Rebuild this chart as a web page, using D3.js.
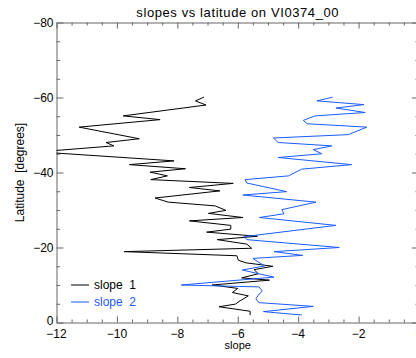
<!DOCTYPE html>
<meta charset="utf-8">
<style>
body { margin: 0; background: #fff; }
svg { font-family: "Liberation Sans", Arial, sans-serif; }
.axis path, .axis line { stroke: #666; }
.axis text { fill: #000; font-size: 12px; }
.line { fill: none; stroke-width: 1px; }
</style>
<svg width="416" height="358"></svg>
<script src="https://cdn.jsdelivr.net/npm/d3@7"></script>
<script>

// slope 1 (black): latitude, slope
var lat1 = [-60.1, -59.1, -58.0, -55.1, -54.1, -52.1, -49.0, -48.0, -47.1, -45.5,
            -43.1, -42.1, -41.0, -40.1, -39.1, -38.1, -37.1, -36.0, -35.1, -33.2,
            -32.1, -31.1, -29.9, -29.1, -28.0, -27.1, -25.9, -24.9, -24.1, -23.0,
            -22.1, -20.9, -19.8, -18.9, -17.8, -16.6, -15.9, -15.0, -14.1, -13.0,
            -11.9, -11.3, -10.0, -9.1, -8.0, -7.1, -5.8, -4.9, -4.2, -3.0, -2.0];
var slope1 = [-7.12, -7.40, -7.05, -9.79, -8.57, -11.25, -9.26, -10.36, -10.10, -12.6,
              -8.11, -9.59, -7.73, -8.90, -8.33, -8.88, -6.15, -7.60, -6.59, -8.74,
              -8.30, -6.75, -6.39, -6.97, -5.83, -7.60, -6.23, -6.23, -7.03, -5.35,
              -6.68, -5.70, -5.54, -9.76, -6.03, -5.98, -5.72, -4.84, -5.46, -5.32,
              -5.87, -4.95, -6.85, -6.00, -6.18, -5.65, -5.92, -6.08, -6.62, -5.59, -5.59];

// slope 2 (blue)
var lat2 = [-60.1, -59.1, -58.1, -57.2, -56.0, -55.1, -53.9, -53.0, -52.1, -50.1,
            -49.2, -48.0, -47.1, -46.1, -45.0, -44.0, -42.1, -40.9, -39.1, -38.1,
            -37.2, -34.9, -34.0, -32.1, -30.1, -29.0, -28.0, -25.9, -22.9, -22.1,
            -20.0, -18.9, -17.9, -17.1, -16.0, -15.1, -14.0, -13.0, -12.1, -10.0,
            -9.5, -8.4, -7.3, -6.3, -5.3, -4.3, -2.9, -2.0];
var slope2 = [-2.86, -3.38, -1.82, -2.75, -1.78, -3.44, -3.83, -3.70, -1.73, -2.34,
              -4.82, -4.66, -2.89, -3.50, -3.22, -4.66, -2.23, -3.88, -4.32, -5.76,
              -5.70, -4.38, -5.83, -3.41, -4.54, -4.47, -5.28, -2.75, -5.79, -5.70,
              -2.64, -4.80, -3.85, -5.50, -5.30, -5.10, -5.85, -5.30, -4.80, -7.87,
              -5.30, -5.19, -5.32, -5.40, -5.30, -3.50, -5.15, -3.88];

var xTicks = [-12, -10, -8, -6, -4, -2, 0];
var yTicks = [-80, -60, -40, -20, 0];
var series = [
  {name: "slope 1", lat: lat1, slope: slope1, color: "#000"},
  {name: "slope 2", lat: lat2, slope: slope2, color: "#1a5cff"}
];

var svg = d3.select("svg"),
    x0 = 56.5, x1 = 419, y0 = 22.5, y1 = 322.5;

var x = d3.scaleLinear().domain([-12, 0]).range([x0, x1]);
var y = d3.scaleLinear().domain([0, -80]).range([y1, y0]);

svg.append("defs").append("clipPath")
    .attr("id", "clip")
  .append("rect")
    .attr("x", x0).attr("y", y0)
    .attr("width", x1 - x0).attr("height", y1 - y0);

var xMinor = d3.range(-12, 0.01, 0.5),
    yMinor = d3.range(-80, 0.01, 5);

function isMajor(list) {
  return function(d) { return list.indexOf(d) >= 0; };
}

// bottom axis
var gb = svg.append("g").attr("class", "axis").attr("transform", "translate(0," + y1 + ")");
gb.call(d3.axisBottom(x).tickValues(xMinor).tickSizeInner(-3).tickSizeOuter(0).tickFormat(""));
gb.selectAll(".tick").filter(isMajor(xTicks)).select("line").attr("y2", -6);
gb.selectAll(".lab").data(xTicks).enter().append("text")
    .attr("x", function(d) { return x(d); })
    .attr("y", 15)
    .attr("text-anchor", "middle")
    .text(d3.format("d"));

// top axis
var gt = svg.append("g").attr("class", "axis").attr("transform", "translate(0," + y0 + ")");
gt.call(d3.axisTop(x).tickValues(xMinor).tickSizeInner(-3).tickSizeOuter(0).tickFormat(""));
gt.selectAll(".tick").filter(isMajor(xTicks)).select("line").attr("y2", 6);

// left axis
var gl = svg.append("g").attr("class", "axis").attr("transform", "translate(" + x0 + ",0)");
gl.call(d3.axisLeft(y).tickValues(yMinor).tickSizeInner(-3.5).tickSizeOuter(0).tickFormat(""));
gl.selectAll(".tick").filter(isMajor(yTicks)).select("line").attr("x2", 7);
gl.selectAll(".lab").data(yTicks).enter().append("text")
    .attr("x", -3)
    .attr("y", function(d) { return y(d) - (d === 0 ? 2 : 0); })
    .attr("dy", "0.35em")
    .attr("text-anchor", "end")
    .text(d3.format("d"));

// right axis
var gr = svg.append("g").attr("class", "axis").attr("transform", "translate(" + x1 + ",0)");
gr.call(d3.axisRight(y).tickValues(yMinor).tickSizeInner(-3.5).tickSizeOuter(0).tickFormat(""));
gr.selectAll(".tick").filter(isMajor(yTicks)).select("line").attr("x2", -7);

var line = d3.line()
    .x(function(d) { return x(d[1]); })
    .y(function(d) { return y(d[0]); });

svg.selectAll(".line").data(series).enter().append("path")
    .attr("class", "line")
    .attr("clip-path", "url(#clip)")
    .attr("stroke", function(d) { return d.color; })
    .attr("d", function(d) { return line(d3.zip(d.lat, d.slope)); });

// legend
var leg = svg.selectAll(".legend").data(series).enter().append("g")
    .attr("transform", function(d, i) { return "translate(71," + (285 + i * 17) + ")"; });
leg.append("line")
    .attr("x1", 0).attr("x2", 18)
    .attr("stroke", function(d) { return d.color; });
leg.append("text")
    .attr("x", 23).attr("dy", "0.35em")
    .attr("font-size", "12px")
    .attr("fill", function(d) { return d.color; })
    .text(function(d) { return d.name.replace(" ", "\u00a0 "); });

// titles
svg.append("text")
    .attr("x", (x0 + x1) / 2).attr("y", 17)
    .attr("text-anchor", "middle")
    .attr("font-size", "13px")
    .attr("letter-spacing", "0.6px")
    .text("slopes vs latitude on VI0374_00");

svg.append("text")
    .attr("x", (x0 + x1) / 2).attr("y", 349)
    .attr("text-anchor", "middle")
    .attr("font-size", "11px")
    .text("slope");

svg.append("text")
    .attr("transform", "translate(24," + (y0 + y1) / 2 + ") rotate(-90)")
    .attr("text-anchor", "middle")
    .attr("font-size", "12px")
    .text("Latitude\u00a0 [degrees]");

</script>
